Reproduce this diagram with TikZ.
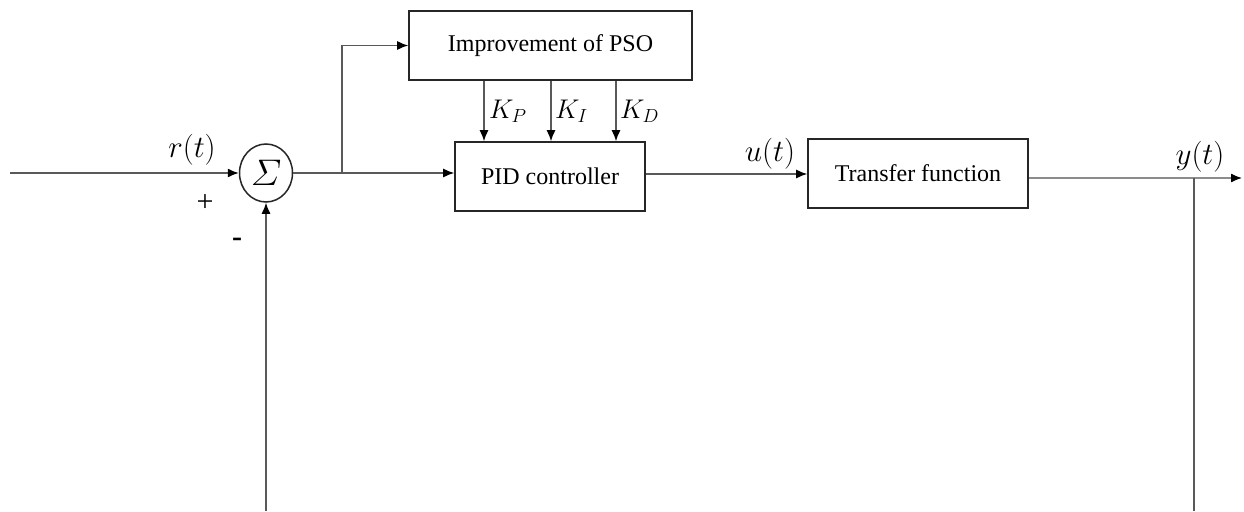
\RequirePackage{fix-cm}
\documentclass[tikz,border=0pt]{standalone}
\usepackage{amsmath}
\usepackage{fontspec}
\setmainfont{Liberation Serif}
\usetikzlibrary{arrows.meta,shapes.geometric}
\tikzset{
  blk/.style={draw=black!85, line width=1.6pt, rectangle, inner sep=0pt, font=\fontsize{24}{28}\selectfont},
  conn/.style={draw=black!65, line width=1.3pt},
  arr/.style={conn, -{Latex[length=11pt,width=9pt,color=black]}},
  mlab/.style={font=\fontsize{31}{34}\selectfont, inner sep=0pt},
  klab/.style={font=\fontsize{27}{30}\selectfont, inner sep=0pt, anchor=base west},
  sgn/.style={font=\fontsize{30}{32}\selectfont, inner sep=0pt}
}
\begin{document}
\begin{tikzpicture}[x=1pt,y=-1pt]
\useasboundingbox (0,0) rectangle (1244,511);
% blocks
\node[draw=black!85, line width=1.5pt, ellipse, minimum width=53pt, minimum height=58pt, inner sep=0pt] (sum) at (266,173) {\fontsize{37}{40}\selectfont$\varSigma$};
\node[blk, minimum width=283pt, minimum height=69pt] (pso) at (550.5,45.5) {Improvement of PSO};
\node[blk, minimum width=190pt, minimum height=69pt] (pid) at (550,176.5) {PID controller};
\node[blk, minimum width=220pt, minimum height=69pt] (tf) at (918,173.5) {Transfer function};
% coordinates
\coordinate (in) at (10,173);
\coordinate (br) at (342,173);
\coordinate (kp) at (484,0);
\coordinate (ki) at (551,0);
\coordinate (kd) at (616,0);
\coordinate (u) at (0,174);
\coordinate (out) at (1242,178);
\coordinate (fb) at (1194,178);
\coordinate (fbb) at (1194,511);
\coordinate (sb) at (266,511);
% connectors
\draw[arr] (in) -- (sum.west);
\draw[arr] (sum.east) -- (pid.west |- br);
\draw[arr] (br) |- (pso.west);
\draw[arr] (pso.south -| kp) -- (pid.north -| kp);
\draw[arr] (pso.south -| ki) -- (pid.north -| ki);
\draw[arr] (pso.south -| kd) -- (pid.north -| kd);
\draw[arr] (pid.east |- u) -- (tf.west |- u);
\draw[arr, draw=black!45] (tf.east |- out) -- (out);
\draw[conn] (fb) -- (fbb);
\draw[arr] (sb) -- (sum.south);
% labels
\node[mlab] (rl) at (192,150) {$r(t)$};
\node[sgn] (plus) at (205,203) {+};
\node[sgn, font=\fontsize{30}{32}\selectfont\bfseries] (minus) at (237,242) {-};
\node[mlab] (ul) at (770,154) {$u(t)$};
\node[mlab] (yl) at (1200,157) {$y(t)$};
\node[klab] (kpl) at (489,118) {$K_P$};
\node[klab] (kil) at (555,118) {$K_I$};
\node[klab] (kdl) at (620,118) {$K_D$};
\end{tikzpicture}
\end{document}
